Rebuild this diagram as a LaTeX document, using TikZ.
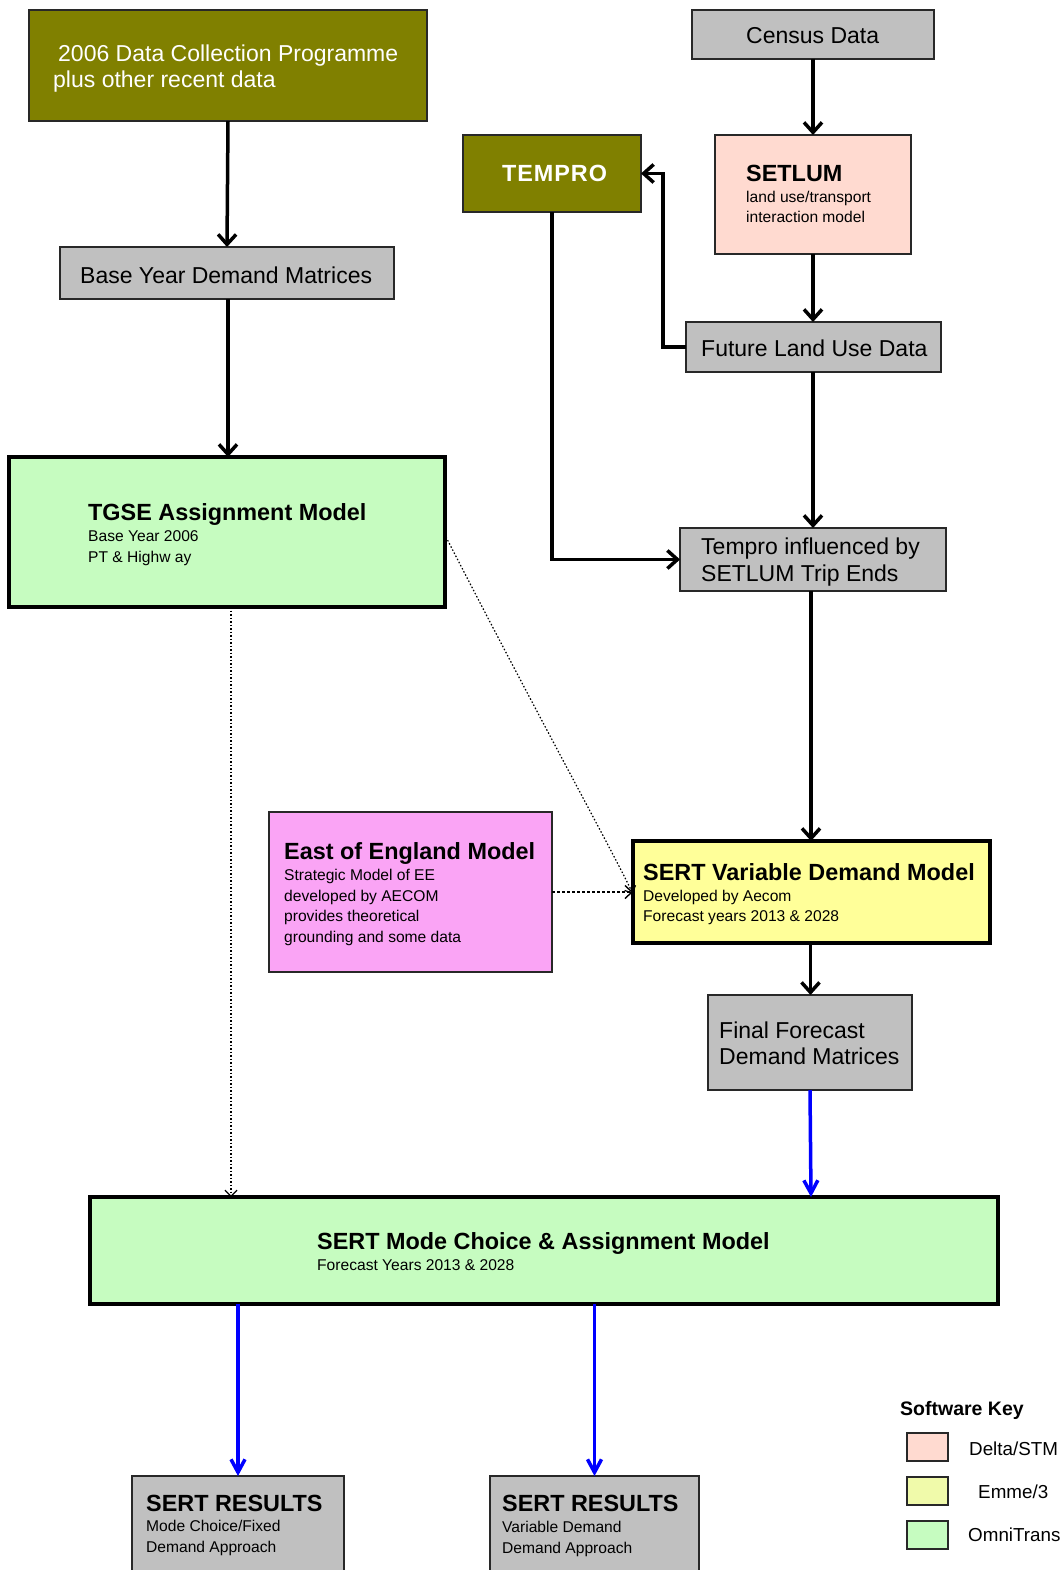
\documentclass[tikz,border=0pt]{standalone}
\usepackage{fontspec}
\setmainfont{Liberation Sans}
\usetikzlibrary{arrows.meta}
\definecolor{olive}{RGB}{128,128,0}
\definecolor{boxgray}{RGB}{192,192,192}
\definecolor{pinkbox}{RGB}{255,218,208}
\definecolor{greenbox}{RGB}{198,252,192}
\definecolor{yellowbox}{RGB}{255,255,153}
\definecolor{magbox}{RGB}{250,164,245}
\definecolor{keyyellow}{RGB}{240,250,170}
\definecolor{edgegray}{RGB}{40,40,40}
\newcommand\fbig{\fontsize{23}{27}\selectfont}
\newcommand\fbold{\fontsize{23.4}{27}\selectfont\bfseries}
\newcommand\fsmall{\fontsize{15.6}{18}\selectfont}
\newcommand\fkey{\fontsize{18.8}{22}\selectfont}
\newcommand\mybox[6]{\node[#2, minimum width={#5-#3}, minimum height={#6-#4}] (#1) at ({(#3+#5)/2},{(#4+#6)/2}) {};}
\newcommand\tl[4]{\node[anchor=base west, inner sep=0pt, font=#3] (#1) at (#2) {#4};}
\begin{document}
\begin{tikzpicture}[x=1pt,y=-1pt,
  plainbox/.style={draw=edgegray, line width=1.3pt, inner sep=0pt, outer sep=0pt},
  thickbox/.style={draw=black, line width=4pt, inner sep=0pt, outer sep=0pt},
  arr/.style={draw=black, line width=3.5pt, -{Straight Barb[length=10pt,width=18pt]}},
  bluearr/.style={draw=blue, line width=3.5pt, -{Straight Barb[length=13pt,width=14pt]}},
  dotarr/.style={draw=black, line width=1.2pt, dash pattern=on 1.5pt off 2pt, -{Straight Barb[length=6pt,width=12pt]}},
  dasharr/.style={draw=black, line width=1.4pt, dash pattern=on 3pt off 2pt, -{Straight Barb[length=7pt,width=13pt]}}]
\useasboundingbox (0,0) rectangle (1062,1570);
\fill[white] (0,0) rectangle (1062,1570);
% boxes
\mybox{dc}{plainbox, fill=olive}{29}{10}{427}{121}
\mybox{by}{plainbox, fill=boxgray}{60}{247}{394}{299}
\mybox{cd}{plainbox, fill=boxgray}{692}{10}{934}{59}
\mybox{tp}{plainbox, fill=olive}{463}{135}{641}{212}
\mybox{sl}{plainbox, fill=pinkbox}{715}{135}{911}{254}
\mybox{fl}{plainbox, fill=boxgray}{686}{322}{941}{372}
\mybox{tg}{thickbox, fill=greenbox}{9}{457}{445}{607}
\mybox{ti}{plainbox, fill=boxgray}{680}{528}{946}{591}
\mybox{ee}{plainbox, fill=magbox}{269}{812}{552}{972}
\mybox{svd}{thickbox, fill=yellowbox}{633}{841}{990}{943}
\mybox{ff}{plainbox, fill=boxgray}{708}{995}{912}{1090}
\mybox{sm}{thickbox, fill=greenbox}{90}{1197}{998}{1304}
\mybox{ra}{plainbox, fill=boxgray}{132}{1476}{344}{1590}
\mybox{rb}{plainbox, fill=boxgray}{490}{1476}{699}{1590}
\mybox{ka}{plainbox, fill=pinkbox}{907}{1433}{948}{1461}
\mybox{kb}{plainbox, fill=keyyellow}{907}{1477}{948}{1505}
\mybox{kc}{plainbox, fill=greenbox}{907}{1521}{948}{1549}
% texts
\tl{dca}{58,62}{\fbig\color{white}}{2006 Data Collection Programme}
\tl{dcb}{53,88}{\fbig\color{white}}{plus other recent data}
\tl{byt}{80,283}{\fbig}{Base Year Demand Matrices}
\tl{cdt}{746,44}{\fbig}{Census Data}
\tl{tpt}{502,182}{\fbold\color{white}\addfontfeature{LetterSpace=4}}{TEMPRO}
\tl{sla}{746,182}{\fbold}{SETLUM}
\tl{slb}{746,203}{\fsmall}{land use/transport}
\tl{slc}{746,223}{\fsmall}{interaction model}
\tl{flt}{701,356}{\fbig}{Future Land Use Data}
\tl{tga}{88,520}{\fbold}{TGSE Assignment Model}
\tl{tgb}{88,541}{\fsmall}{Base Year 2006}
\tl{tgc}{88,562}{\fsmall}{PT \& Highw ay}
\tl{tia}{701,554}{\fbig}{Tempro influenced by}
\tl{tib}{701,581}{\fbig}{SETLUM Trip Ends}
\tl{eea}{284,859}{\fbold}{East of England Model}
\tl{eeb}{284,880}{\fsmall}{Strategic Model of EE}
\tl{eec}{284,901}{\fsmall}{developed by AECOM}
\tl{eed}{284,921}{\fsmall}{provides theoretical}
\tl{eee}{284,942}{\fsmall}{grounding and some data}
\tl{sva}{643,880}{\fbold}{SERT Variable Demand Model}
\tl{svb}{643,901}{\fsmall}{Developed by Aecom}
\tl{svc}{643,921}{\fsmall}{Forecast years 2013 \& 2028}
\tl{ffa}{719,1038}{\fbig}{Final Forecast}
\tl{ffb}{719,1064}{\fbig}{Demand Matrices}
\tl{sma}{317,1249}{\fbold}{SERT Mode Choice \& Assignment Model}
\tl{smb}{317,1270}{\fsmall}{Forecast Years 2013 \& 2028}
\tl{raa}{146,1511}{\fbold}{SERT RESULTS}
\tl{rab}{146,1531}{\fsmall}{Mode Choice/Fixed}
\tl{rac}{146,1552}{\fsmall}{Demand Approach}
\tl{rba}{502,1511}{\fbold}{SERT RESULTS}
\tl{rbb}{502,1532}{\fsmall}{Variable Demand}
\tl{rbc}{502,1553}{\fsmall}{Demand Approach}
\tl{keyt}{900,1415}{\fontsize{19.5}{22}\selectfont\bfseries}{Software Key}
\tl{kat}{969,1455}{\fkey}{Delta/STM}
\tl{kbt}{978,1498}{\fkey}{Emme/3}
\tl{kct}{968,1541}{\fkey}{OmniTrans}
% connectors
\draw[arr] (dc.south) -- (by.north);
\draw[arr] (by.south -| dc.south) -- (tg.north -| dc.south);
\draw[arr] (cd.south) -- (sl.north);
\draw[arr] (sl.south) -- (fl.north -| sl.south);
\draw[arr] (fl.west) -- ++(-23,0) |- (tp.east);
\draw[arr] (tp.south) |- (ti.west);
\draw[arr] (fl.south -| sl.south) -- (ti.north -| sl.south);
\draw[arr] ([xshift=-2pt]ti.south) -- ([xshift=-2pt]ti.south |- svd.north);
\draw[arr] ([xshift=-1pt]svd.south) -- ([xshift=-1pt]svd.south |- ff.north);
\draw[bluearr] (ff.south) -- ([xshift=1pt]ff.south |- sm.north);
\draw[bluearr] (sm.south -| ra.north) -- (ra.north);
\draw[bluearr] (sm.south -| rb.north) -- (rb.north);
\draw[dotarr] ([xshift=4pt]tg.south) -- ([xshift=4pt]tg.south |- sm.north);
\draw[dotarr] ([xshift=1pt,yshift=-5pt]tg.east) .. controls (540,720) and (612,850) .. ([yshift=-2pt]svd.west);
\draw[dasharr] (ee.east) -- (svd.west);
\end{tikzpicture}
\end{document}
